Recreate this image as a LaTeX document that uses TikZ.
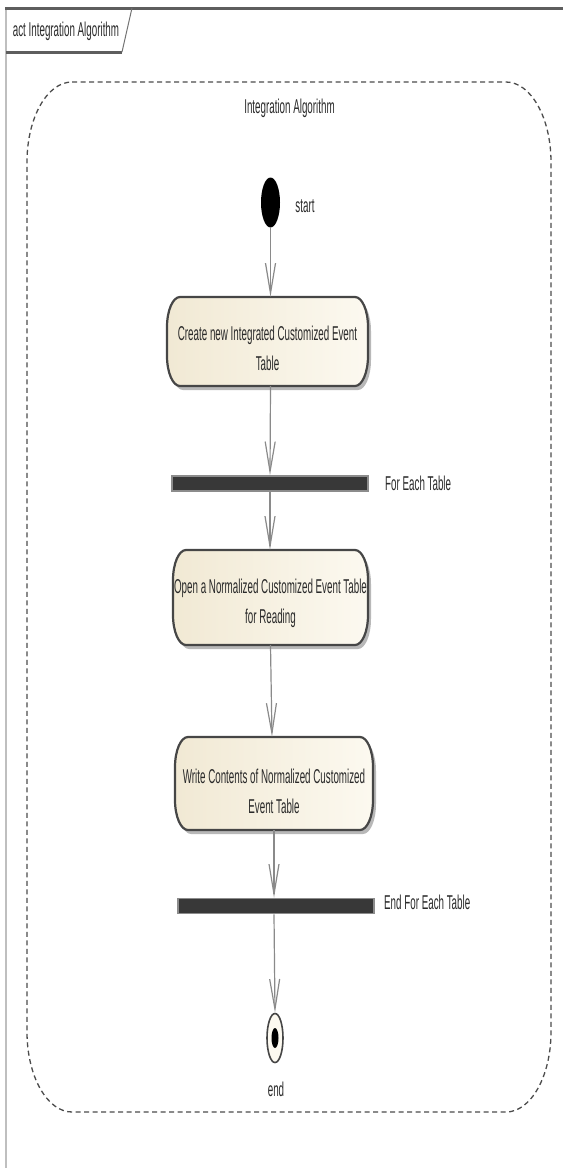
\documentclass[tikz,border=0pt]{standalone}
\usepackage{fontspec}
\setmainfont{Liberation Sans}
\usetikzlibrary{arrows.meta,shapes.geometric}

\definecolor{inkc}{HTML}{2A2A2A}
\definecolor{creamL}{HTML}{F1E9D4}
\definecolor{creamR}{HTML}{FCF9F0}
\definecolor{edgec}{HTML}{464646}
\definecolor{flowc}{HTML}{8A8A8A}
\definecolor{barc}{HTML}{383838}
\definecolor{framec}{HTML}{5E5E5E}

% condensed text, as the modelling tool sets it
\newcommand\sqz[1]{\scalebox{0.49}[1]{#1}}

% action outline with elliptical corners: x1, top, x2, bottom (top/bottom measured downwards)
\newcommand\actpath[4]{({#1+13},{-#2}) -- ({#3-13},{-#2})
  arc[start angle=90,end angle=0,x radius=13,y radius=30] -- ({#3},{-#4+30})
  arc[start angle=0,end angle=-90,x radius=13,y radius=30] -- ({#1+13},{-#4})
  arc[start angle=270,end angle=180,x radius=13,y radius=30] -- ({#1},{-#2-30})
  arc[start angle=180,end angle=90,x radius=13,y radius=30] -- cycle}

% draws one action: name, x1, top, x2, bottom, text-centre y, text
\newcommand\actionbox[7]{%
  \fill[black!28,shift={(3pt,-4pt)}] \actpath{#2}{#3}{#4}{#5};
  \shade[left color=creamL,right color=creamR] \actpath{#2}{#3}{#4}{#5};
  \draw[edgec,line width=2.2pt] \actpath{#2}{#3}{#4}{#5};
  \node[inner sep=0,minimum width=#4-#2,minimum height=#5-#3] (#1) at ({(#2+#4)/2},{-(#3+#5)/2}) {};
  \node[txt,align=center] (#1t) at ({(#2+#4)/2},{-#6}) {#7};
}

\begin{document}
\begin{tikzpicture}[x=1pt,y=1pt,
  txt/.style={text=inkc,inner sep=0,font=\fontsize{20}{30}\selectfont},
  flow/.style={draw=flowc,line width=1.2pt,
    -{Straight Barb[length=30pt,width=10pt,line width=1.2pt]}},
  forkbar/.style={rectangle,fill=barc,draw=black!45,line width=1.5pt,
    minimum width=196,minimum height=15,inner sep=0},
  region/.style={draw=black!70,line width=1.3pt,dash pattern=on 5pt off 3.5pt}]

\useasboundingbox (0,0) rectangle (563,-1168);

% diagram frame with its name tab
\draw[black!25,line width=2pt] (6,-8) -- (6,-1168);
\draw[framec,line width=3pt] (5,-8) -- (563,-8);
\draw[framec,line width=3pt] (6,-52) -- (122,-52);
\draw[black!55,line width=1pt] (122,-52) -- (132,-8);
\node[txt] (frametitle) at (66,-31) {\sqz{act Integration Algorithm}};

% structured activity region
\draw[region] (72,-82) -- (506,-82)
  arc[start angle=90,end angle=0,x radius=45,y radius=80] -- (551,-1032)
  arc[start angle=0,end angle=-90,x radius=45,y radius=80] -- (72,-1112)
  arc[start angle=270,end angle=180,x radius=45,y radius=80] -- (27,-162)
  arc[start angle=180,end angle=90,x radius=45,y radius=80] -- cycle;
\node[txt] (regiontitle) at (289.5,-108) {\sqz{Integration Algorithm}};

% initial node
\node[ellipse,fill=black,minimum width=19,minimum height=50,inner sep=0] (start) at (270.5,-202.5) {};
\node[txt] (startlbl) at (305,-206) {\sqz{start}};

% actions
\actionbox{a1}{167}{297}{368}{386}{348}{\sqz{Create new Integrated Customized Event}\\\sqz{Table}}
\actionbox{a2}{173}{550}{368}{645}{603}{\sqz{Open a Normalized Customized Event Table}\\\sqz{for Reading}}
\actionbox{a3}{175}{737}{373}{830}{791}{\sqz{Write Contents of Normalized Customized}\\\sqz{Event Table}}

% loop bars
\node[forkbar] (b1) at (270,-483.5) {};
\node[txt,anchor=west] (b1lbl) at (385,-483) {\sqz{For Each Table}};
\node[forkbar] (b2) at (276,-906) {};
\node[txt,anchor=west] (b2lbl) at (384,-902) {\sqz{End For Each Table}};

% final node
\node[ellipse,fill=creamR,draw=edgec,line width=1.6pt,minimum width=16,minimum height=49,inner sep=0] (final) at (275,-1038) {};
\node[ellipse,fill=black,minimum width=7,minimum height=20,inner sep=0] (finaldot) at (final.center) {};
\node[txt] (finallbl) at (276,-1089) {\sqz{end}};

% control flows
\draw[flow] (start.south) -- (start.south |- a1.north);
\draw[flow] (a1.south -| start) -- (b1.north);
\draw[flow] (b1.south) -- (b1.south |- a2.north);
\draw[flow] (a2.south) -- (a3.north -| 272,0);
\draw[flow] (a3.south -| 274,0) -- (b2.north -| 274,0);
\draw[flow] (b2.south -| 274,0) -- (final.north);
\end{tikzpicture}
\end{document}
